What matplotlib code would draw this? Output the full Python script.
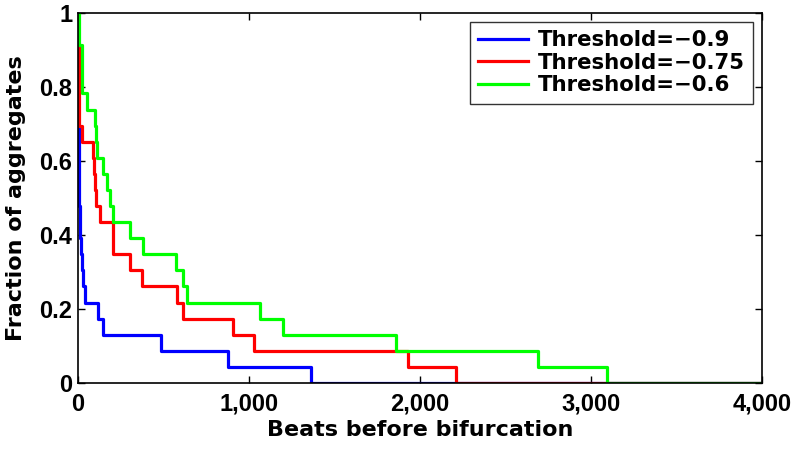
import matplotlib
matplotlib.use('Agg')
import matplotlib.pyplot as plt
import numpy as np
from matplotlib.ticker import FuncFormatter

n_agg = 23

# beats (x) where each curve steps, and number of aggregates remaining (out of 23)
blue_x = [0, 4, 8, 12, 18, 24, 30, 38, 117, 146, 485, 880, 1365, 4000]
blue_n = [16, 13, 11, 9, 8, 7, 6, 5, 4, 3, 2, 1, 0, 0]

red_x = [0, 3, 21, 89, 93, 97, 105, 128, 206, 304, 372, 580, 614, 906, 1029, 1928, 2214, 4000]
red_n = [21, 16, 15, 14, 13, 12, 11, 10, 8, 7, 6, 5, 4, 3, 2, 1, 0, 0]

green_x = [0, 3, 8, 21, 51, 99, 104, 112, 144, 168, 187, 206, 304, 378, 575, 616, 636, 1064, 1201, 1858, 2690, 3092, 4000]
green_n = [23, 22, 21, 18, 17, 16, 15, 14, 13, 12, 11, 10, 9, 8, 7, 6, 5, 4, 3, 2, 1, 0, 0]

labels = ['Threshold=\u22120.9', 'Threshold=\u22120.75', 'Threshold=\u22120.6']
colors = ['#0000ff', '#ff0000', '#00ff00']

plt.rcParams['font.family'] = ['Liberation Sans', 'DejaVu Sans']
plt.rcParams['font.weight'] = 'bold'

fig = plt.figure(figsize=(7.96, 4.51), dpi=100)
ax = fig.add_axes([0.098, 0.151, 0.859, 0.820])

series = [(blue_x, blue_n), (red_x, red_n), (green_x, green_n)]
for (xs, ns), lab, c in zip(series, labels, colors):
    ax.step(xs, np.array(ns) / n_agg, where='post', color=c, lw=2.3, label=lab)

ax.set_xlim(0, 4000)
ax.set_ylim(0, 1)
ax.set_xticks([0, 1000, 2000, 3000, 4000])
ax.set_yticks([0, 0.2, 0.4, 0.6, 0.8, 1])
ax.xaxis.set_major_formatter(FuncFormatter(lambda v, p: '{:,.0f}'.format(v)))
ax.yaxis.set_major_formatter(FuncFormatter(lambda v, p: '{:g}'.format(v)))
ax.tick_params(direction='in', top=True, right=True, length=5, width=1,
               labelsize=17)
ax.tick_params(axis='x', pad=7)
ax.tick_params(axis='y', pad=4)
for t in ax.get_xticklabels() + ax.get_yticklabels():
    t.set_fontweight('bold')
for s in ax.spines.values():
    s.set_linewidth(1.2)

ax.set_xlabel('Beats before bifurcation', fontsize=16, fontweight='bold',
              family='DejaVu Sans', labelpad=3)
ax.set_ylabel('Fraction of aggregates', fontsize=16, fontweight='bold',
              family='DejaVu Sans', labelpad=10)

leg = ax.legend(loc='upper right', frameon=True, fancybox=False,
                prop={'family': 'DejaVu Sans', 'weight': 'bold', 'size': 15.3},
                edgecolor='black', borderpad=0.4, labelspacing=0.12,
                handlelength=2.35, handletextpad=0.45, borderaxespad=0.4)
leg.get_frame().set_linewidth(1.0)

fig.savefig('out.png', dpi=100)
